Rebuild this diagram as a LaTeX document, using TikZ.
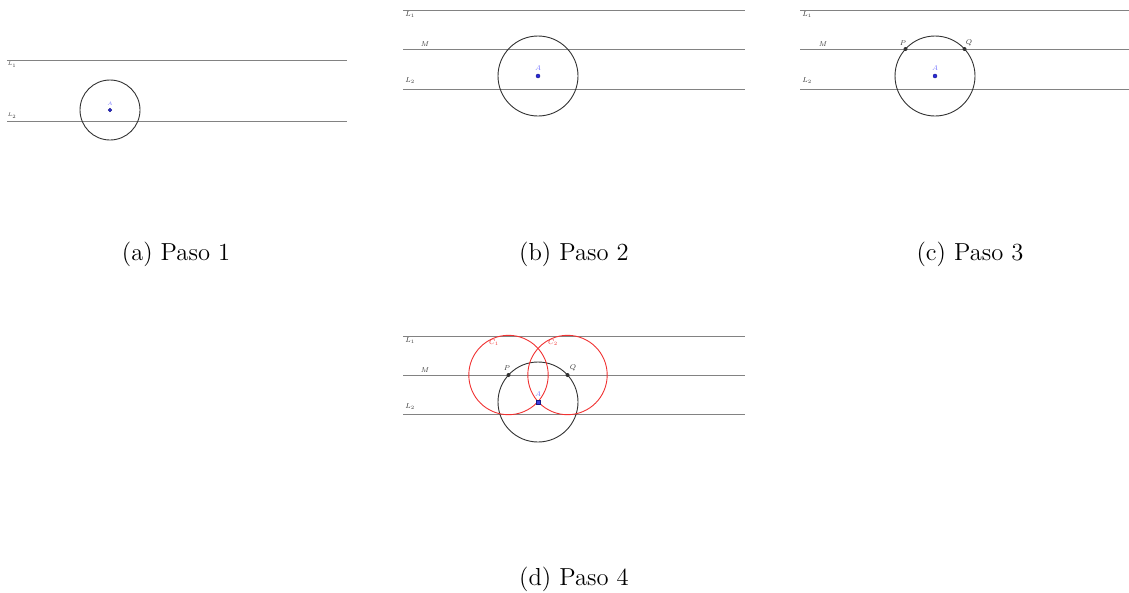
\documentclass[tikz,border=0pt]{standalone}
\usepackage{tikz}
\usepackage{graphicx}
\definecolor{lgray}{RGB}{130,130,130}
\definecolor{cgray}{RGB}{50,50,50}
\definecolor{ablue}{RGB}{40,40,220}
\definecolor{lblue}{RGB}{120,120,255}
\definecolor{cred}{RGB}{240,50,50}
\tikzset{
  ln/.style={draw=lgray, line width=1pt},
  circ/.style={draw=cgray, line width=0.9pt},
  rcirc/.style={draw=cred, line width=0.9pt},
  ptA/.style={circle, fill=ablue, draw=ablue!60!black, line width=0.4pt, inner sep=0pt, minimum size=4pt},
  ptk/.style={circle, fill=cgray, inner sep=0pt, minimum size=4pt},
  lab/.style={font=\fontsize{7}{8}\selectfont, text=cgray, inner sep=0pt},
  tlab/.style={font=\fontsize{5}{6}\selectfont, text=cgray, inner sep=0pt},
  blab/.style={font=\fontsize{7}{8}\selectfont, text=lblue, inner sep=0pt},
  rlab/.style={font=\fontsize{7}{8}\selectfont, text=cred, inner sep=0pt},
  captxt/.style={font=\fontsize{12}{14}\selectfont, inner sep=0pt}
}
\newcommand{\captext}[1]{\scalebox{2.05}{#1}}
\begin{document}
\begin{tikzpicture}[x=1pt,y=-1pt]
\useasboundingbox (0,0) rectangle (1129,592);
% ---------- (a)
\coordinate (a1l) at (7,60); \coordinate (a1r) at (347,60);
\coordinate (a2l) at (7,121); \coordinate (a2r) at (347,121);
\draw[ln] (a1l) -- (a1r);
\draw[ln] (a2l) -- (a2r);
\node[tlab] (aL1) at (12,65) {$L_1$};
\node[tlab] (aL2) at (12,116) {$L_2$};
\coordinate (aA) at (110,110);
\draw[circ] (aA) circle[radius=30];
\node[ptA, minimum size=3.5pt] (aAp) at (aA) {};
\node[tlab, text=lblue] (aAl) at (110,104) {$A$};
\node[captxt] (capa) at (176,254) {\captext{(a) Paso 1}};
% ---------- (b)
\coordinate (b1l) at (403,10); \coordinate (b1r) at (745,10);
\coordinate (bMl) at (403,49); \coordinate (bMr) at (745,49);
\coordinate (b2l) at (403,89); \coordinate (b2r) at (745,89);
\draw[ln] (b1l) -- (b1r);
\draw[ln] (bMl) -- (bMr);
\draw[ln] (b2l) -- (b2r);
\node[lab] (bL1) at (410,15) {$L_1$};
\node[lab] (bM) at (425,44) {$M$};
\node[lab] (bL2) at (410,81) {$L_2$};
\coordinate (bA) at (538,76);
\draw[circ] (bA) circle[radius=40];
\node[ptA] (bAp) at (bA) {};
\node[blab] (bAl) at (538,68) {$A$};
\node[captxt] (capb) at (574,254) {\captext{(b) Paso 2}};
% ---------- (c)
\coordinate (c1l) at (800,10); \coordinate (c1r) at (1129,10);
\coordinate (cMl) at (800,49); \coordinate (cMr) at (1129,49);
\coordinate (c2l) at (800,89); \coordinate (c2r) at (1129,89);
\draw[ln] (c1l) -- (c1r);
\draw[ln] (cMl) -- (cMr);
\draw[ln] (c2l) -- (c2r);
\node[lab] (cL1) at (807,15) {$L_1$};
\node[lab] (cM) at (823,44) {$M$};
\node[lab] (cL2) at (807,81) {$L_2$};
\coordinate (cA) at (935,76);
\draw[circ] (cA) circle[radius=40];
\node[ptA] (cAp) at (cA) {};
\node[blab] (cAl) at (935,68) {$A$};
\node[ptk] (cP) at (905.5,49) {};
\node[ptk] (cQ) at (964.5,49) {};
\node[lab] (cPl) at (903,43) {$P$};
\node[lab] (cQl) at (969,43) {$Q$};
\node[captxt] (capc) at (970,254) {\captext{(c) Paso 3}};
% ---------- (d)
\coordinate (d1l) at (403,336); \coordinate (d1r) at (745,336);
\coordinate (dMl) at (403,375); \coordinate (dMr) at (745,375);
\coordinate (d2l) at (403,414); \coordinate (d2r) at (745,414);
\draw[ln] (d1l) -- (d1r);
\draw[ln] (dMl) -- (dMr);
\draw[ln] (d2l) -- (d2r);
\node[lab] (dL1) at (410,341) {$L_1$};
\node[lab] (dM) at (425,370) {$M$};
\node[lab] (dL2) at (410,407) {$L_2$};
\coordinate (dA) at (538,402);
\coordinate (dPc) at (508.5,375);
\coordinate (dQc) at (567.5,375);
\draw[circ] (dA) circle[radius=40];
\draw[rcirc] (dPc) circle[radius=39.7];
\draw[rcirc] (dQc) circle[radius=39.7];
\node[ptk] (dP) at (dPc) {};
\node[ptk] (dQ) at (dQc) {};
\node[ptA, rectangle, fill=ablue!90!white, minimum size=4.5pt] (dAp) at (dA) {};
\node[blab] (dAl) at (538,394) {$A$};
\node[lab] (dPl) at (507,368) {$P$};
\node[lab] (dQl) at (573,368) {$Q$};
\node[rlab] (dC1) at (494,343) {$C_1$};
\node[rlab] (dC2) at (553,343) {$C_2$};
\node[captxt] (capd) at (574,579) {\captext{(d) Paso 4}};
\end{tikzpicture}
\end{document}
